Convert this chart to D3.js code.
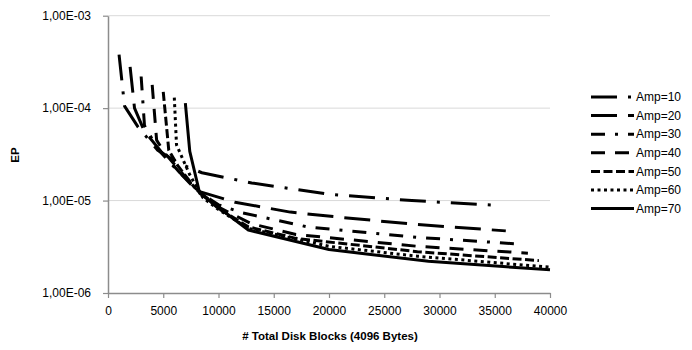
<!DOCTYPE html>
<html>
<head>
<meta charset="utf-8">
<script src="https://cdn.jsdelivr.net/npm/d3@7/dist/d3.min.js"></script>
<style>
  body { margin: 0; background: #fff; }
  text { font-family: "Liberation Sans", Arial, sans-serif; fill: #000; }
</style>
</head>
<body>
<div id="chart"></div>
<script>

// series labels
let amps = ["Amp=10", "Amp=20", "Amp=30", "Amp=40", "Amp=50", "Amp=60", "Amp=70"];

// [total disk blocks, EP]
let amp10 = [[1000,3.8e-4],[1500,1.05e-4],[2700,6.3e-5],[4500,3.5e-5],[6500,2.5e-5],[8500,2.0e-5],[13000,1.55e-5],[20000,1.17e-5],[27500,1.0e-5],[35000,8.9e-6]];
let amp20 = [[2000,2.8e-4],[2400,1.0e-4],[3300,5.6e-5],[4800,3.4e-5],[6500,2.0e-5],[8300,1.25e-5],[11500,9.6e-6],[16500,7.5e-6],[21000,6.6e-6],[28000,5.5e-6],[36000,4.7e-6]];
let amp30 = [[3000,2.2e-4],[3300,6.5e-5],[4500,3.6e-5],[6000,2.3e-5],[8000,1.3e-5],[10000,9.0e-6],[12100,7.4e-6],[18000,5.2e-6],[28000,4.0e-6],[37000,3.4e-6]];
let amp40 = [[4000,1.78e-4],[4400,4.5e-5],[5200,3.2e-5],[6500,2.1e-5],[8200,1.25e-5],[10000,8.5e-6],[13000,5.6e-6],[17000,4.3e-6],[28000,3.2e-6],[38000,2.7e-6]];
let amp50 = [[5000,1.5e-4],[5500,3.5e-5],[6300,2.4e-5],[7800,1.4e-5],[10000,8.2e-6],[12700,5.2e-6],[17000,3.9e-6],[28000,2.8e-6],[39000,2.24e-6]];
let amp60 = [[6000,1.3e-4],[6200,4.0e-5],[7400,1.9e-5],[8600,1.07e-5],[10000,8.0e-6],[12700,5.0e-6],[20000,3.2e-6],[28000,2.5e-6],[40000,1.9e-6]];
let amp70 = [[7000,1.13e-4],[7400,3.4e-5],[8300,1.2e-5],[12700,4.8e-6],[20000,2.95e-6],[29000,2.2e-6],[40000,1.78e-6]];

let seriesData = [amp10, amp20, amp30, amp40, amp50, amp60, amp70];

// tick values
let xTicks = [0, 5000, 10000, 15000, 20000, 25000, 30000, 35000, 40000];
let yTicks = [1e-6, 1e-5, 1e-4, 1e-3];

// excel-ish dash styles
let dashes = ["26,11,3,11", "26,11", "14,10,3,10", "14,10", "9,3.5", "3,3.5", null];

//////////////////////////////////////////////////////////////////////////

let width = 692, height = 350;

let svg = d3.select("#chart")
            .append("svg")
            .attr("width", width)
            .attr("height", height);

let x = d3.scaleLinear().domain([0, 40000]).range([108, 550]);
let y = d3.scaleLog().domain([1e-6, 1e-3]).range([293, 15.7]);

// grid
svg.append("g")
   .selectAll("line")
   .data(yTicks.slice(1))
   .join("line")
   .attr("x1", x(0))
   .attr("x2", x(40000))
   .attr("y1", d => y(d))
   .attr("y2", d => y(d))
   .attr("stroke", "#d9d9d9")
   .attr("stroke-width", 1);

// x axis
let xAxis = svg.append("g")
   .attr("transform", `translate(0,${y(1e-6)})`)
   .call(d3.axisBottom(x).tickValues(xTicks).tickSize(5).tickSizeOuter(0).tickPadding(8).tickFormat(d3.format("d")));

// y axis
let yAxis = svg.append("g")
   .attr("transform", `translate(${x(0)},0)`)
   .call(d3.axisLeft(y).tickValues(yTicks).tickSize(5).tickSizeOuter(0).tickPadding(12)
         .tickFormat(d => "1,00E-0" + Math.round(-Math.log10(d))));

[xAxis, yAxis].forEach(a => {
    a.select(".domain").attr("stroke", "#8c8c8c").attr("stroke-width", 1.5);
    a.selectAll(".tick line").attr("stroke", "#8c8c8c").attr("stroke-width", 1.2);
    a.selectAll("text").attr("font-size", 12).attr("font-family", "Liberation Sans, Arial, sans-serif").attr("fill", "#000");
});

// lines
let line = d3.line().x(d => x(d[0])).y(d => y(d[1]));

svg.append("g")
   .selectAll("path")
   .data(seriesData)
   .join("path")
   .attr("d", line)
   .attr("fill", "none")
   .attr("stroke", "#000")
   .attr("stroke-width", 3)
   .attr("stroke-linejoin", "round")
   .attr("stroke-dasharray", (d, i) => dashes[i]);

// legend
let legend = svg.append("g")
   .selectAll("g")
   .data(amps)
   .join("g")
   .attr("transform", (d, i) => `translate(591,${97 + i * 18.6})`);

legend.append("line")
   .attr("x1", 0).attr("x2", 43)
   .attr("stroke", "#000")
   .attr("stroke-width", 3)
   .attr("stroke-dasharray", (d, i) => dashes[i]);

legend.append("text")
   .attr("x", 45)
   .attr("dy", "0.35em")
   .attr("font-size", 12)
   .text(d => d);

// axis titles
svg.append("text")
   .attr("x", 330)
   .attr("y", 340)
   .attr("text-anchor", "middle")
   .attr("font-size", 11.5)
   .attr("font-weight", "bold")
   .text("# Total Disk Blocks (4096 Bytes)");

svg.append("text")
   .attr("transform", "translate(19,155) rotate(-90)")
   .attr("text-anchor", "middle")
   .attr("font-size", 11.5)
   .attr("font-weight", "bold")
   .text("EP");

</script>
</body>
</html>
